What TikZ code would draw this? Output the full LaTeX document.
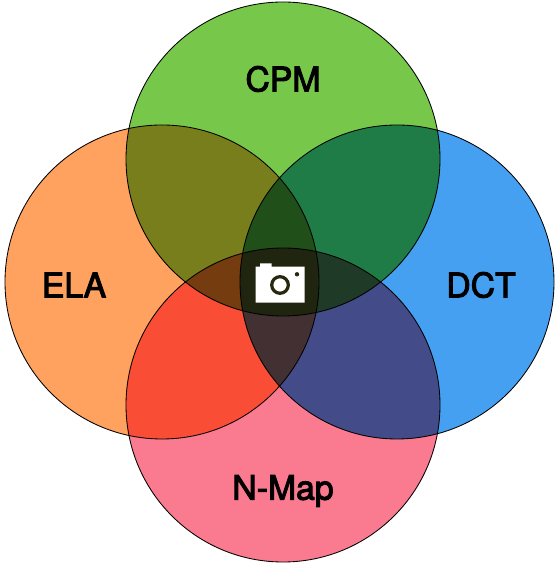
\documentclass[tikz,border=0pt]{standalone}
\usepackage{fontspec}
\setmainfont{TeX Gyre Heros}
\definecolor{cpmgreen}{HTML}{77C74B}
\definecolor{elaorange}{HTML}{FFA25F}
\definecolor{dctblue}{HTML}{45A0F2}
\definecolor{nmappink}{HTML}{FA7A90}
\definecolor{lensdark}{HTML}{28280F}
\tikzset{
  disc/.style={blend mode=multiply},
  rim/.style={draw=black,line width=0.6pt},
  lbl/.style={font=\fontsize{24}{27}\selectfont\addfontfeatures{FakeBold=3},text=black},
}
\begin{document}
\begin{tikzpicture}[scale=0.025]
\useasboundingbox (0,0) rectangle (559,566);
\fill[white] (0,0) rectangle (559,566);
% discs
\fill[cpmgreen,disc] (283,407) circle (157);
\fill[elaorange,disc] (162,284) circle (157);
\fill[dctblue,disc] (397,284) circle (157);
\fill[nmappink,disc] (283,161) circle (157);
% outlines
\draw[rim] (283,407) circle (157);
\draw[rim] (162,284) circle (157);
\draw[rim] (397,284) circle (157);
\draw[rim] (283,161) circle (157);
% camera
\fill[white] (255.7,263.3) -- (304.7,263.3) -- (304.7,299.3) -- (271.7,299.3) -- (271.7,302.7) -- (260,302.7) -- (260,299.3) -- (255.7,299.3) -- cycle;
\draw[lensdark,line width=2.3pt] (280,281) circle (8.3);
\fill[lensdark] (297,291.7) circle (2.2);
% labels
\node[lbl] (cpm) at (283,487) {CPM};
\node[lbl] (ela) at (74,281) {ELA};
\node[lbl] (dct) at (481,281) {DCT};
\node[lbl] (nmap) at (283,75) {N-Map};
\end{tikzpicture}
\end{document}
